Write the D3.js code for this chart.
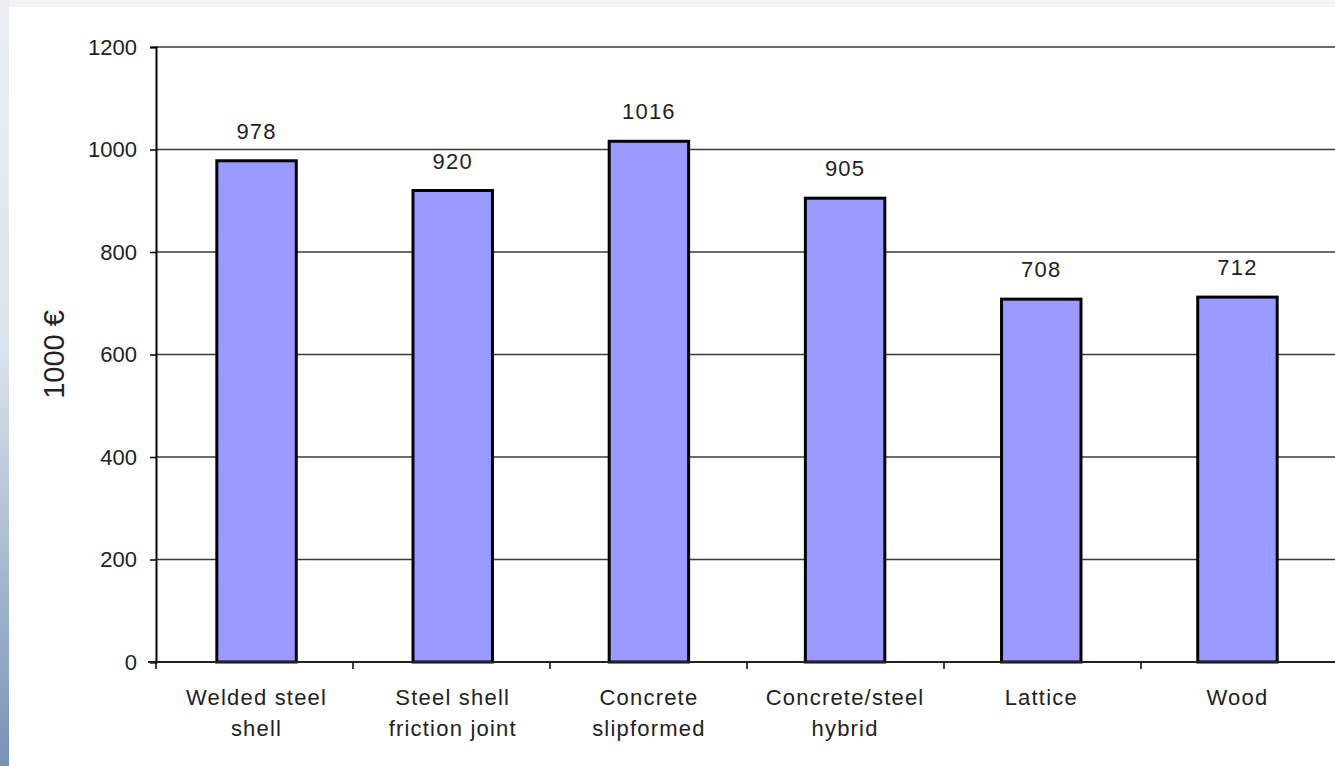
<!DOCTYPE html>
<html>
<head>
<meta charset="UTF-8">
<title>Tower cost comparison</title>
<script src="https://d3js.org/d3.v7.min.js"></script>
<style>
  body { margin: 0; overflow: hidden; }
  svg text { font-family: 'Liberation Sans', Arial, sans-serif; }
</style>
</head>
<body>
<script>
const categories = [
  ["Welded steel", "shell"],
  ["Steel shell", "friction joint"],
  ["Concrete", "slipformed"],
  ["Concrete/steel", "hybrid"],
  ["Lattice"],
  ["Wood"]
];
const values = [978, 920, 1016, 905, 708, 712];
const yTicks = [0, 200, 400, 600, 800, 1000, 1200];
const yLabel = "1000 €";

const width = 1335, height = 766;
const margin = { left: 156, top: 47, right: -3, bottom: 104 };

const svg = d3.select("body").append("svg")
  .attr("width", width).attr("height", height);

// slide background
const defs = svg.append("defs");
const grad = defs.append("linearGradient").attr("id", "side")
  .attr("x1", 0).attr("y1", 0).attr("x2", 0).attr("y2", 1);
grad.append("stop").attr("offset", "0%").attr("stop-color", "#eceef4");
grad.append("stop").attr("offset", "45%").attr("stop-color", "#dde3ec");
grad.append("stop").attr("offset", "100%").attr("stop-color", "#7793b8");

svg.append("rect").attr("width", width).attr("height", height).attr("fill", "#f2f3f6");
svg.append("rect").attr("width", 9).attr("height", height).attr("fill", "url(#side)");
svg.append("rect").attr("x", 9).attr("y", 7).attr("width", width - 9).attr("height", height - 7).attr("fill", "#ffffff");

const x = d3.scaleBand()
  .domain(d3.range(categories.length))
  .range([margin.left, width - margin.right])
  .paddingInner(0.595).paddingOuter(0.31);

const xOuter = d3.scaleBand()
  .domain(d3.range(categories.length))
  .range([margin.left, width - margin.right]);

const y = d3.scaleLinear()
  .domain([0, 1200])
  .range([height - margin.bottom, margin.top]);

// gridlines
svg.append("g").selectAll("line")
  .data(yTicks.filter(d => d > 0)).enter().append("line")
  .attr("x1", margin.left).attr("x2", width)
  .attr("y1", d => y(d)).attr("y2", d => y(d))
  .attr("stroke", "#3a3a3a").attr("stroke-width", 1.6);

// bars
svg.append("g").selectAll("rect")
  .data(values).enter().append("rect")
  .attr("x", (d, i) => x(i))
  .attr("y", d => y(d))
  .attr("width", x.bandwidth())
  .attr("height", d => y(0) - y(d))
  .attr("fill", "#9999ff")
  .attr("stroke", "#000")
  .attr("stroke-width", 3);

// value labels
svg.append("g").selectAll("text")
  .data(values).enter().append("text")
  .attr("x", (d, i) => x(i) + x.bandwidth() / 2)
  .attr("y", d => y(d) - 22)
  .attr("text-anchor", "middle")
  .attr("font-size", 22)
  .attr("letter-spacing", 1.2)
  .attr("fill", "#222")
  .text(d => d);

// y axis
const yAxis = svg.append("g")
  .attr("transform", `translate(${margin.left},0)`)
  .call(d3.axisLeft(y).tickValues(yTicks).tickFormat(d3.format("d")).tickSize(6).tickPadding(13));
yAxis.attr("font-size", 22).attr("font-family", null);
yAxis.select(".domain").attr("stroke", "#000").attr("stroke-width", 2);
yAxis.selectAll(".tick line").attr("stroke", "#000").attr("stroke-width", 1.5);
yAxis.selectAll(".tick text").attr("fill", "#222");

// x axis
const xAxis = svg.append("g")
  .attr("transform", `translate(0,${y(0)})`);
xAxis.append("line")
  .attr("x1", margin.left - 8).attr("x2", width)
  .attr("y1", 0).attr("y2", 0)
  .attr("stroke", "#222").attr("stroke-width", 2);
xAxis.selectAll(".xt")
  .data(d3.range(categories.length)).enter().append("line")
  .attr("class", "xt")
  .attr("x1", i => xOuter(i)).attr("x2", i => xOuter(i))
  .attr("y1", 0).attr("y2", 7)
  .attr("stroke", "#000").attr("stroke-width", 1.5);

const labels = svg.append("g").selectAll("text")
  .data(categories).enter().append("text")
  .attr("text-anchor", "middle")
  .attr("font-size", 22)
  .attr("letter-spacing", 1.2)
  .attr("fill", "#222")
  .attr("x", (d, i) => x(i) + x.bandwidth() / 2)
  .attr("y", y(0) + 43);
labels.selectAll("tspan")
  .data(d => d).enter().append("tspan")
  .attr("x", function () { return this.parentNode.getAttribute("x"); })
  .attr("dy", (d, j) => j === 0 ? 0 : 31)
  .text(d => d);

// y label
svg.append("text")
  .attr("transform", `translate(64,${(y(0) + y(1200)) / 2}) rotate(-90)`)
  .attr("text-anchor", "middle")
  .attr("font-size", 29)
  .attr("fill", "#222")
  .text(yLabel);
</script>
</body>
</html>
